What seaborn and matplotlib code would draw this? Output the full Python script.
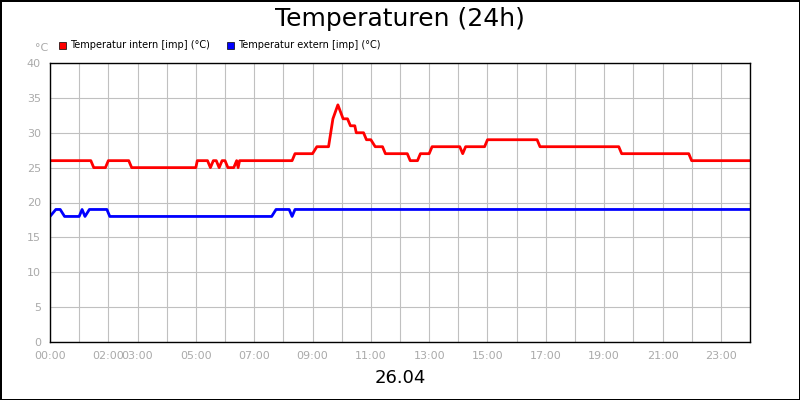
import matplotlib
matplotlib.use("Agg")
import matplotlib.pyplot as plt
import seaborn as sns
import pandas as pd

sns.set_theme(style="white")
plt.rcParams['font.family'] = ['DejaVu Sans']

intern_h = [0, 1.4, 1.5, 1.9, 2.0, 2.7, 2.8, 5.0, 5.05, 5.4, 5.5, 5.6, 5.7, 5.8, 5.9, 6.0, 6.1, 6.3, 6.4, 6.45, 6.5, 8.3, 8.4, 9.0, 9.15, 9.55, 9.7, 9.87, 10.05, 10.2, 10.3, 10.45, 10.5, 10.75, 10.85, 11.0, 11.15, 11.4, 11.5, 12.25, 12.35, 12.6, 12.7, 13.0, 13.1, 14.05, 14.15, 14.25, 14.9, 15.0, 16.7, 16.8, 19.5, 19.6, 21.9, 22.0, 24.0]
intern_v = [26, 26, 25, 25, 26, 26, 25, 25, 26, 26, 25, 26, 26, 25, 26, 26, 25, 25, 26, 25, 26, 26, 27, 27, 28, 28, 32, 34, 32, 32, 31, 31, 30, 30, 29, 29, 28, 28, 27, 27, 26, 26, 27, 27, 28, 28, 27, 28, 28, 29, 29, 28, 28, 27, 27, 26, 26]
extern_h = [0, 0.2, 0.35, 0.5, 1.0, 1.1, 1.2, 1.35, 1.95, 2.05, 7.6, 7.75, 8.2, 8.3, 8.4, 24.0]
extern_v = [18, 19, 19, 18, 18, 19, 18, 19, 19, 18, 18, 19, 19, 18, 19, 19]
tick_hours = [0, 2, 3, 5, 7, 9, 11, 13, 15, 17, 19, 21, 23]
tick_labels = ["00:00", "02:00", "03:00", "05:00", "07:00", "09:00", "11:00", "13:00", "15:00", "17:00", "19:00", "21:00", "23:00"]

df = pd.concat([
    pd.DataFrame({"h": intern_h, "v": intern_v, "s": "Temperatur intern [imp] (°C)"}),
    pd.DataFrame({"h": extern_h, "v": extern_v, "s": "Temperatur extern [imp] (°C)"}),
])

fig = plt.figure(figsize=(8, 4), dpi=100)
fig.patch.set_edgecolor("black"); fig.patch.set_linewidth(2)
ax = fig.add_axes([50/800, 58/400, 700/800, 279/400])
sns.lineplot(data=df, x="h", y="v", hue="s", palette=["#ff0000", "#0000ff"], linewidth=2, ax=ax, legend=False, estimator=None, sort=False)
ax.set_xlim(0, 24); ax.set_ylim(0, 40)
ax.set_xticks(tick_hours)
ax.set_xticklabels(tick_labels)
ax.set_xticks(range(0, 25), minor=True)
ax.set_yticks(range(0, 41, 5))
ax.grid(True, which="both", color="#c0c0c0", linewidth=0.8)
ax.tick_params(axis="both", colors="#aaaaaa", labelsize=8, length=3, width=1, which="both")
ax.tick_params(which="minor", length=0)
for sp in ax.spines.values():
    sp.set_color("black"); sp.set_linewidth(1)
ax.set_xlabel("26.04", fontsize=13, color="black", labelpad=6)
ax.set_ylabel("")
fig.text(400/800, 1 - 19/400, "Temperaturen (24h)", fontsize=18, ha="center", va="center", color="black")
fig.text(42/800, 1 - 48/400, "°C", fontsize=8, color="#aaaaaa", ha="center", va="center")
from matplotlib.patches import Rectangle
for x0, c, lab in [(59, "#ff0000", "Temperatur intern [imp] (°C)"), (227, "#0000ff", "Temperatur extern [imp] (°C)")]:
    fig.patches.append(Rectangle((x0/800, 1 - 49/400), 7/800, 7/400, transform=fig.transFigure, facecolor=c, edgecolor="black", linewidth=0.5))
    fig.text((x0 + 11)/800, 1 - 45/400, lab, fontsize=7, va="center", color="black")
fig.savefig("out.png", dpi=100, edgecolor=fig.get_edgecolor())
